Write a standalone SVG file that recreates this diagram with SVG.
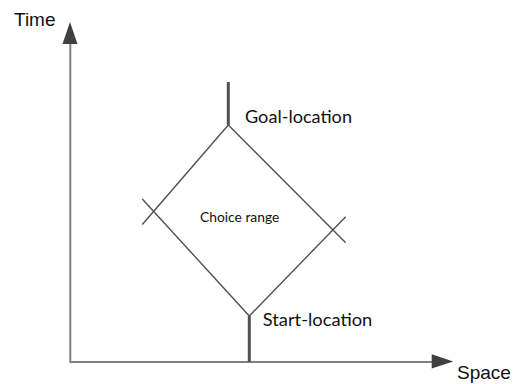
<svg xmlns="http://www.w3.org/2000/svg" width="519" height="384" viewBox="0 0 519 384">
<style>
.axis{stroke:#808080;stroke-width:2;fill:none}
.head{fill:#404040}
.edge{stroke:#505050;stroke-width:1.4;fill:none}
.stem{stroke:#505050;stroke-width:3;fill:none}
.ax{font-family:"Liberation Sans",Arial,sans-serif;font-size:19px;fill:#111}
.lbl{font-family:Lato,"Open Sans",sans-serif;fill:#111}
</style>
<rect width="519" height="384" fill="#fff"/>
<g id="axes">
<path class="axis" d="M70.3 42 V362 H433"/>
<polygon class="head" points="62.5,44 77.5,44 70,22"/>
<polygon class="head" points="431.7,354.3 431.7,368.5 453.3,361.5"/>
<text class="ax" x="14" y="26">Time</text>
<text class="ax" x="457" y="379">Space</text>
</g>
<g id="connectors">
<line class="edge" x1="228.3" y1="125" x2="142.3" y2="224.5"/>
<line class="edge" x1="249.3" y1="316" x2="142.3" y2="199"/>
<line class="edge" x1="228.3" y1="125" x2="345.7" y2="242.7"/>
<line class="edge" x1="249.3" y1="316" x2="345.7" y2="216.7"/>
</g>
<g id="goal">
<line class="stem" x1="228.3" y1="82" x2="228.3" y2="125"/>
<text class="lbl" x="245" y="123.3" font-size="18" textLength="107" lengthAdjust="spacingAndGlyphs">Goal-location</text>
</g>
<g id="start">
<line class="stem" x1="249.3" y1="316" x2="249.3" y2="362"/>
<text class="lbl" x="262.7" y="326" font-size="18" textLength="109.6" lengthAdjust="spacingAndGlyphs">Start-location</text>
</g>
<g id="choice">
<text class="lbl" x="200" y="221.7" font-size="14" textLength="79.3" lengthAdjust="spacingAndGlyphs">Choice range</text>
</g>
</svg>
